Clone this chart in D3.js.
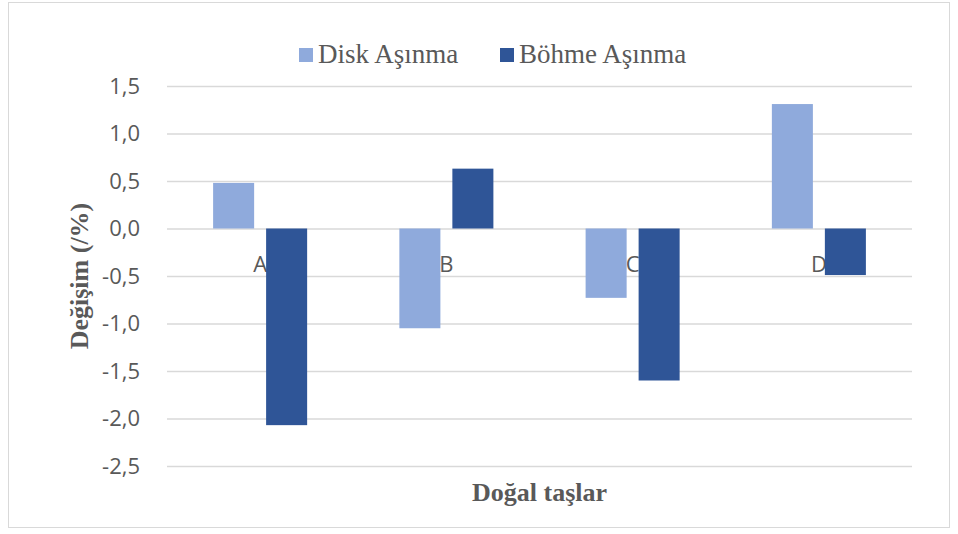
<!DOCTYPE html>
<html>
<head>
<meta charset="utf-8">
<script src="https://cdn.jsdelivr.net/npm/d3@7"></script>
<style>
  body { margin: 0; background: #fff; }
  svg { display: block; }
</style>
</head>
<body>
<div id="chart"></div>
<script>
// values
const categories = ['A', 'B', 'C', 'D'];
const seriesNames = ['Disk Aşınma', 'Böhme Aşınma'];
const diskValues = [0.48, -1.05, -0.73, 1.31];
const bohmeValues = [-2.07, 0.63, -1.6, -0.49];
const yTicks = [1.5, 1.0, 0.5, 0.0, -0.5, -1.0, -1.5, -2.0, -2.5];
const colors = ['#8faadc', '#2f5597'];

const width = 958, height = 534;
const margin = { top: 86, right: 46, bottom: 68, left: 167 };
const chartWidth = width - margin.left - margin.right;
const chartHeight = height - margin.top - margin.bottom;

const sansFont = 'Open Sans, Liberation Sans, Arial, sans-serif';
const serifFont = 'Liberation Serif, Times New Roman, serif';

const svg = d3.select('#chart')
    .append('svg')
    .attr('width', width)
    .attr('height', height);

// outer frame
svg.append('rect')
    .attr('x', 8.5).attr('y', 2.5)
    .attr('width', 941).attr('height', 525)
    .attr('fill', '#fff')
    .attr('stroke', '#d9d9d9');

const chart = svg.append('g')
    .attr('transform', `translate(${margin.left},${margin.top})`);

const xScale = d3.scaleBand()
    .domain(categories)
    .range([0, chartWidth]);

const inner = d3.scaleBand()
    .domain(seriesNames)
    .range([0, xScale.bandwidth()])
    .paddingInner(0.226)
    .paddingOuter(0.87);

const yScale = d3.scaleLinear()
    .domain([-2.5, 1.5])
    .range([chartHeight, 0]);

// gridlines + tick labels
const yAxis = d3.axisLeft(yScale)
    .tickValues(yTicks)
    .tickSize(-chartWidth)
    .tickPadding(27)
    .tickFormat(d => d3.format('.1f')(d).replace('.', ',').replace('−', '-'));

const gy = chart.append('g').call(yAxis);
gy.select('.domain').remove();
gy.selectAll('line').attr('stroke', '#d9d9d9').attr('stroke-width', 1.5);
gy.selectAll('text')
    .attr('fill', '#595959')
    .style('font-family', sansFont)
    .style('font-size', '22px');

const data = categories.map((c, i) => ({ cat: c, values: [diskValues[i], bohmeValues[i]] }));

// category labels next to zero line (drawn under bars)
chart.selectAll('.cat-label')
    .data(categories)
    .enter()
    .append('text')
    .attr('x', d => xScale(d) + xScale.bandwidth() / 2)
    .attr('y', yScale(0) + 43)
    .attr('text-anchor', 'middle')
    .attr('fill', '#595959')
    .style('font-family', sansFont)
    .style('font-size', '22px')
    .text(d => d);

const groups = chart.selectAll('.grp')
    .data(data)
    .enter()
    .append('g')
    .attr('transform', d => `translate(${xScale(d.cat)},0)`);

groups.selectAll('rect')
    .data(d => d.values.map((v, j) => ({ name: seriesNames[j], value: v, j: j })))
    .enter()
    .append('rect')
    .attr('x', d => inner(d.name))
    .attr('width', inner.bandwidth())
    .attr('y', d => yScale(Math.max(0, d.value)))
    .attr('height', d => Math.abs(yScale(d.value) - yScale(0)))
    .attr('fill', d => colors[d.j]);

// legend
const legendX = [299, 500];
const legend = svg.selectAll('.legend')
    .data(seriesNames)
    .enter()
    .append('g')
    .attr('transform', (d, i) => `translate(${legendX[i]},48)`);
legend.append('rect')
    .attr('width', 14).attr('height', 14)
    .attr('fill', (d, i) => colors[i]);
legend.append('text')
    .attr('x', 19).attr('y', 15)
    .attr('fill', '#595959')
    .style('font-family', serifFont)
    .style('font-size', '27px')
    .text(d => d);

// axis titles
svg.append('text')
    .attr('transform', `translate(88,${margin.top + chartHeight / 2}) rotate(-90)`)
    .attr('text-anchor', 'middle')
    .attr('fill', '#595959')
    .style('font-family', serifFont)
    .style('font-weight', 'bold')
    .style('font-size', '26px')
    .text('Değişim (/%)');

svg.append('text')
    .attr('x', margin.left + chartWidth / 2).attr('y', 501)
    .attr('text-anchor', 'middle')
    .attr('fill', '#595959')
    .style('font-family', serifFont)
    .style('font-weight', 'bold')
    .style('font-size', '26px')
    .text('Doğal taşlar');
</script>
</body>
</html>
